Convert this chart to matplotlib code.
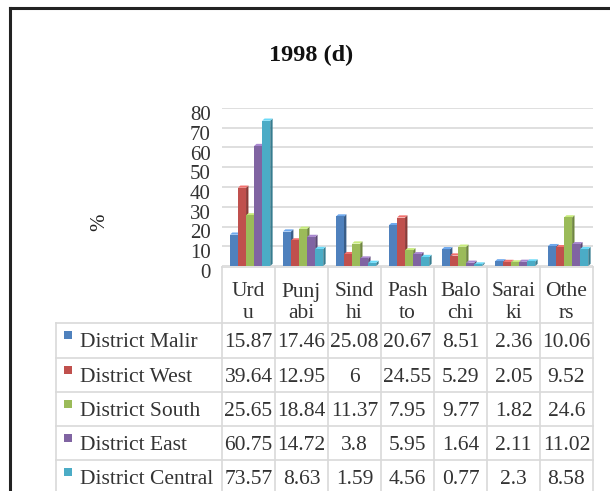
import matplotlib
matplotlib.use("Agg")
import matplotlib.pyplot as plt
from matplotlib.patches import Polygon, Rectangle
from matplotlib.lines import Line2D
import matplotlib.colors as mcolors
import matplotlib.transforms as mtransforms
import numpy as np

title = "1998 (d)"
categories = ["Urdu", "Punjabi", "Sindhi", "Pashto", "Balochi", "Saraiki", "Others"]
header_labels = ["Urd\nu", "Punj\nabi", "Sind\nhi", "Pash\nto", "Balo\nchi", "Sarai\nki", "Othe\nrs"]
series_names = ["District Malir", "District West", "District South", "District East", "District Central"]
malir = [15.87, 17.46, 25.08, 20.67, 8.51, 2.36, 10.06]
west = [39.64, 12.95, 6, 24.55, 5.29, 2.05, 9.52]
south = [25.65, 18.84, 11.37, 7.95, 9.77, 1.82, 24.6]
east = [60.75, 14.72, 3.8, 5.95, 1.64, 2.11, 11.02]
central = [73.57, 8.63, 1.59, 4.56, 0.77, 2.3, 8.58]
series_values = [malir, west, south, east, central]
colors = ["#4F81BD", "#C0504D", "#9BBB59", "#8064A2", "#4BACC6"]
y_ticks = [0, 10, 20, 30, 40, 50, 60, 70, 80]

W, H = 610, 491
fig = plt.figure(figsize=(W / 100, H / 100), dpi=100)
serif = ["Liberation Serif", "DejaVu Serif"]

def fx(px):
    return px / W

def fy(py):
    return 1 - py / H

# axes geometry (pixel)
ax_left, ax_right = 222, 593
y0_px, y80_px = 266, 108
ax = fig.add_axes([fx(ax_left), fy(y0_px), (ax_right - ax_left) / W, (y0_px - y80_px) / H])
n_cat = len(categories)
ax.set_xlim(-0.5, n_cat - 0.5)
ax.set_ylim(0, 80)
for s in ax.spines.values():
    s.set_visible(False)
ax.set_yticks(y_ticks)
ax.set_yticklabels([str(t) for t in y_ticks], fontfamily=serif, fontsize=15, color="#333333")
ax.tick_params(axis="y", length=0, pad=8)
shift = mtransforms.ScaledTranslation(0, -5 / 100, fig.dpi_scale_trans)
for lab in ax.get_yticklabels():
    lab.set_transform(lab.get_transform() + shift)
ax.set_xticks([])
ax.yaxis.grid(True, color="#d9d9d9", linewidth=1.2)
ax.set_axisbelow(True)
ax.patch.set_alpha(0)

bw = 0.152
dx, dy = 0.045, 1.1
x = np.arange(n_cat)
for i, (vals, c) in enumerate(zip(series_values, colors)):
    offs = (i - 2) * bw + 0.03
    base = mcolors.to_rgb(c)
    dark = tuple(v * 0.72 for v in base)
    light = tuple(min(1, v * 1.15 + 0.08) for v in base)
    for xi, v in zip(x + offs, vals):
        l = xi - bw / 2
        r = xi + bw / 2
        ax.add_patch(Polygon([(r, 0), (r + dx, dy), (r + dx, v + dy), (r, v)],
                             closed=True, facecolor=dark, edgecolor="none", zorder=3))
        ax.add_patch(Polygon([(l, v), (l + dx, v + dy), (r + dx, v + dy), (r, v)],
                             closed=True, facecolor=light, edgecolor="none", zorder=3))
    ax.bar(x + offs, vals, width=bw, color=c, edgecolor="none", zorder=4)

# title and y label
fig.text(fx(311), fy(55), title, ha="center", va="center", fontfamily=serif,
         fontsize=17.5, fontweight="bold", color="#111111")
fig.text(fx(100), fy(222), "%", ha="center", va="center", rotation=90,
         fontfamily=serif, fontsize=15, color="#222222")

# data table
grid_c = "#d9d9d9"
col_w = (ax_right - ax_left) / n_cat
col_edges = [ax_left + col_w * k for k in range(n_cat + 1)]
row_edges = [323, 357.5, 391.5, 425.5, 460, 494]
tbl_left = 56

def hline(x1, x2, y):
    fig.add_artist(Line2D([fx(x1), fx(x2)], [fy(y), fy(y)], color=grid_c, lw=1.2))

def vline(x0, y1, y2):
    fig.add_artist(Line2D([fx(x0), fx(x0)], [fy(y1), fy(y2)], color=grid_c, lw=1.2))

for ce in col_edges:
    vline(ce, y0_px + 1, row_edges[-1])
vline(tbl_left, row_edges[0], row_edges[-1])
for re_ in row_edges:
    hline(tbl_left, ax_right, re_)
hline(ax_left, ax_right, y0_px + 1)

tfs = 15.5
for k, lab in enumerate(header_labels):
    cx = (col_edges[k] + col_edges[k + 1]) / 2
    top, bot = lab.split("\n")
    fig.text(fx(cx), fy(292), top, ha="center", va="center", fontfamily=serif,
             fontsize=tfs, color="#333333")
    fig.text(fx(cx), fy(314), bot, ha="center", va="center", fontfamily=serif,
             fontsize=tfs, color="#333333")

for r, (name, vals, c) in enumerate(zip(series_names, series_values, colors)):
    cy = (row_edges[r] + row_edges[r + 1]) / 2
    fig.add_artist(Rectangle((fx(64), fy(cy - 1)), 8 / W, 8 / H, facecolor=c,
                             edgecolor="none"))
    fig.text(fx(80), fy(cy + 2.5), name, ha="left", va="center", fontfamily=serif,
             fontsize=tfs, color="#333333")
    for k, v in enumerate(vals):
        cx = (col_edges[k] + col_edges[k + 1]) / 2
        fig.text(fx(cx), fy(cy + 2.5), f"{v:g}", ha="center", va="center",
                 fontfamily=serif, fontsize=tfs, color="#333333")

# outer frame
fig.add_artist(Line2D([fx(10), fx(10)], [fy(8), -0.05], color="#222222", lw=2.2))
fig.add_artist(Line2D([fx(10), 1.05], [fy(8), fy(8)], color="#222222", lw=2.2))

fig.savefig("out.png", dpi=100)
